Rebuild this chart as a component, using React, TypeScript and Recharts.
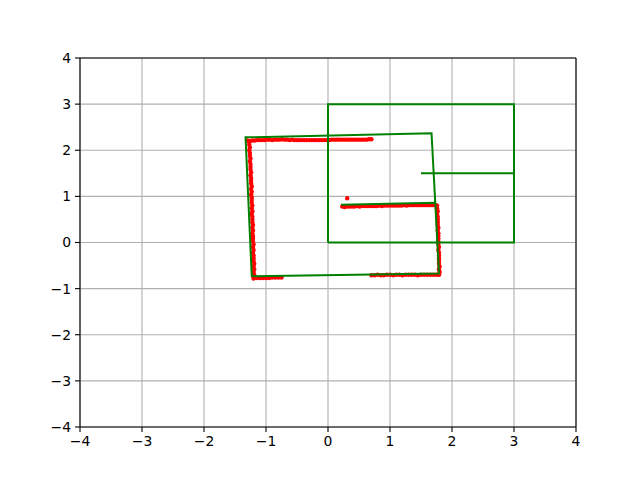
import React from 'react';
import { ScatterChart, Scatter, XAxis, YAxis, CartesianGrid, ReferenceLine } from 'recharts';

const ticks = [-4, -3, -2, -1, 0, 1, 2, 3, 4];

// Reference map: square plus heading line
const mapSquare: [number, number][] = [
  [0, 0], [3, 0], [3, 3], [0, 3], [0, 0],
];
const mapHeading: [number, number][] = [
  [1.5, 1.5], [3, 1.5],
];

// Estimated pose: rotated square plus heading line
const poseShape: [number, number][] = [
  [0.21, 0.82], [1.73, 0.86], [1.79, -0.67], [-1.23, -0.73], [-1.33, 2.28], [1.67, 2.37], [1.73, 0.86],
];

// Scanned points (red)
const scanTop: [number, number][] = [
  [-1.30, 2.21], [-1.26, 2.20], [-1.22, 2.21], [-1.18, 2.21], [-1.14, 2.22], [-1.10, 2.22], [-1.06, 2.22],
  [-1.02, 2.22], [-0.98, 2.23], [-0.94, 2.23], [-0.90, 2.22], [-0.86, 2.23], [-0.82, 2.23], [-0.78, 2.23],
  [-0.74, 2.24], [-0.70, 2.23], [-0.66, 2.23], [-0.62, 2.22], [-0.58, 2.23], [-0.54, 2.22], [-0.50, 2.22],
  [-0.46, 2.22], [-0.42, 2.22], [-0.38, 2.22], [-0.34, 2.22], [-0.30, 2.22], [-0.26, 2.22], [-0.22, 2.22],
  [-0.18, 2.22], [-0.14, 2.22], [-0.10, 2.22], [-0.06, 2.22], [-0.02, 2.22], [0.02, 2.22], [0.06, 2.23],
  [0.10, 2.23], [0.14, 2.23], [0.18, 2.23], [0.22, 2.23], [0.26, 2.23], [0.30, 2.23], [0.34, 2.23],
  [0.38, 2.23], [0.42, 2.23], [0.46, 2.23], [0.50, 2.23], [0.54, 2.23], [0.58, 2.23], [0.62, 2.23],
  [0.66, 2.24], [0.70, 2.24],
];
const scanLeft: [number, number][] = [
  [-1.27, 2.18], [-1.27, 2.12], [-1.26, 2.06], [-1.27, 2.00], [-1.26, 1.94], [-1.26, 1.88], [-1.25, 1.82],
  [-1.26, 1.76], [-1.25, 1.70], [-1.25, 1.64], [-1.25, 1.58], [-1.24, 1.52], [-1.25, 1.46], [-1.24, 1.40],
  [-1.24, 1.34], [-1.24, 1.28], [-1.23, 1.22], [-1.24, 1.16], [-1.23, 1.10], [-1.24, 1.04], [-1.23, 0.98],
  [-1.23, 0.92], [-1.23, 0.86], [-1.22, 0.80], [-1.23, 0.74], [-1.22, 0.68], [-1.23, 0.62], [-1.22, 0.56],
  [-1.22, 0.50], [-1.22, 0.44], [-1.21, 0.38], [-1.22, 0.32], [-1.21, 0.26], [-1.22, 0.20], [-1.21, 0.14],
  [-1.21, 0.08], [-1.21, 0.02], [-1.20, -0.04], [-1.21, -0.10], [-1.20, -0.16], [-1.21, -0.22], [-1.20, -0.28],
  [-1.20, -0.34], [-1.20, -0.40], [-1.19, -0.46], [-1.20, -0.52], [-1.19, -0.58], [-1.20, -0.64], [-1.19, -0.70],
  [-1.20, -0.76],
];
const scanBottomLeft: [number, number][] = [
  [-1.20, -0.78], [-1.15, -0.77], [-1.10, -0.77], [-1.05, -0.77], [-1.00, -0.77], [-0.95, -0.77],
  [-0.90, -0.76], [-0.85, -0.76], [-0.80, -0.76], [-0.75, -0.76],
];
const scanBottomRight: [number, number][] = [
  [0.70, -0.71], [0.75, -0.71], [0.80, -0.70], [0.85, -0.71], [0.90, -0.71], [0.95, -0.70], [1.00, -0.70],
  [1.05, -0.71], [1.10, -0.70], [1.15, -0.70], [1.20, -0.71], [1.25, -0.70], [1.30, -0.70], [1.35, -0.70],
  [1.40, -0.70], [1.45, -0.71], [1.50, -0.70], [1.55, -0.70], [1.60, -0.70], [1.65, -0.70], [1.70, -0.70],
  [1.75, -0.70], [1.79, -0.70],
];
const scanRight: [number, number][] = [
  [1.76, 0.80], [1.76, 0.74], [1.77, 0.68], [1.76, 0.62], [1.77, 0.56], [1.77, 0.50], [1.77, 0.44],
  [1.77, 0.38], [1.78, 0.32], [1.77, 0.26], [1.78, 0.20], [1.78, 0.14], [1.78, 0.08], [1.78, 0.02],
  [1.78, -0.04], [1.79, -0.10], [1.78, -0.16], [1.79, -0.22], [1.79, -0.28], [1.79, -0.34], [1.79, -0.40],
  [1.79, -0.46], [1.80, -0.52], [1.79, -0.58], [1.80, -0.64], [1.79, -0.69],
];
const scanInner: [number, number][] = [
  [0.23, 0.78], [0.27, 0.77], [0.31, 0.78], [0.35, 0.78], [0.39, 0.78], [0.43, 0.78], [0.47, 0.79],
  [0.51, 0.78], [0.55, 0.79], [0.59, 0.79], [0.63, 0.79], [0.67, 0.79], [0.71, 0.79], [0.75, 0.79],
  [0.79, 0.79], [0.83, 0.80], [0.87, 0.79], [0.91, 0.80], [0.95, 0.80], [0.99, 0.80], [1.03, 0.80],
  [1.07, 0.80], [1.11, 0.80], [1.15, 0.80], [1.19, 0.80], [1.23, 0.81], [1.27, 0.80], [1.31, 0.81],
  [1.35, 0.81], [1.39, 0.81], [1.43, 0.81], [1.47, 0.81], [1.51, 0.81], [1.55, 0.81], [1.59, 0.81],
  [1.63, 0.81], [1.67, 0.81], [1.71, 0.81], [1.74, 0.81],
];
const scanStray: [number, number][] = [[0.31, 0.96]];

const toObj = (arr: [number, number][]) => arr.map(([x, y]) => ({ x, y }));

const redPoints = toObj([
  ...scanTop, ...scanLeft, ...scanBottomLeft, ...scanBottomRight, ...scanRight, ...scanInner, ...scanStray,
]);

const fmt = (v: number) => String(v).replace('-', '\u2212');
const tickStyle = { fill: '#000', fontSize: 13.9, fontFamily: 'DejaVu Sans' };

const RedDot = (props: any) => <circle cx={props.cx} cy={props.cy} r={2.2} fill="#ff0000" />;
const NoDot = () => <g />;

export default function App() {
  return (
    <div style={{ position: 'absolute', left: 0, top: 0, width: 640, height: 480, background: '#fff' }}>
      <ScatterChart width={640} height={480} margin={{ top: 58, right: 64, bottom: 23, left: 0 }}>
        <CartesianGrid stroke="#b0b0b0" strokeWidth={1.1} />
        <XAxis
          type="number"
          dataKey="x"
          domain={[-4, 4]}
          ticks={ticks}
          tickFormatter={fmt}
          height={30}
          tick={tickStyle}
          tickSize={5}
          tickMargin={4}
          axisLine={{ stroke: '#000', strokeWidth: 1.1 }}
          tickLine={{ stroke: '#000', strokeWidth: 1.1 }}
          allowDataOverflow
        />
        <YAxis
          type="number"
          dataKey="y"
          domain={[-4, 4]}
          ticks={ticks}
          tickFormatter={fmt}
          width={80}
          tick={tickStyle}
          tickSize={5}
          tickMargin={4}
          axisLine={{ stroke: '#000', strokeWidth: 1.1 }}
          tickLine={{ stroke: '#000', strokeWidth: 1.1 }}
          allowDataOverflow
        />
        <ReferenceLine y={4} stroke="#000" strokeWidth={1.1} />
        <ReferenceLine x={4} stroke="#000" strokeWidth={1.1} />
        <Scatter data={redPoints} shape={RedDot} isAnimationActive={false} />
        <Scatter data={toObj(mapSquare)} line={{ stroke: '#008000', strokeWidth: 2 }} shape={NoDot} isAnimationActive={false} />
        <Scatter data={toObj(mapHeading)} line={{ stroke: '#008000', strokeWidth: 2 }} shape={NoDot} isAnimationActive={false} />
        <Scatter data={toObj(poseShape)} line={{ stroke: '#008000', strokeWidth: 2 }} shape={NoDot} isAnimationActive={false} />
      </ScatterChart>
    </div>
  );
}
